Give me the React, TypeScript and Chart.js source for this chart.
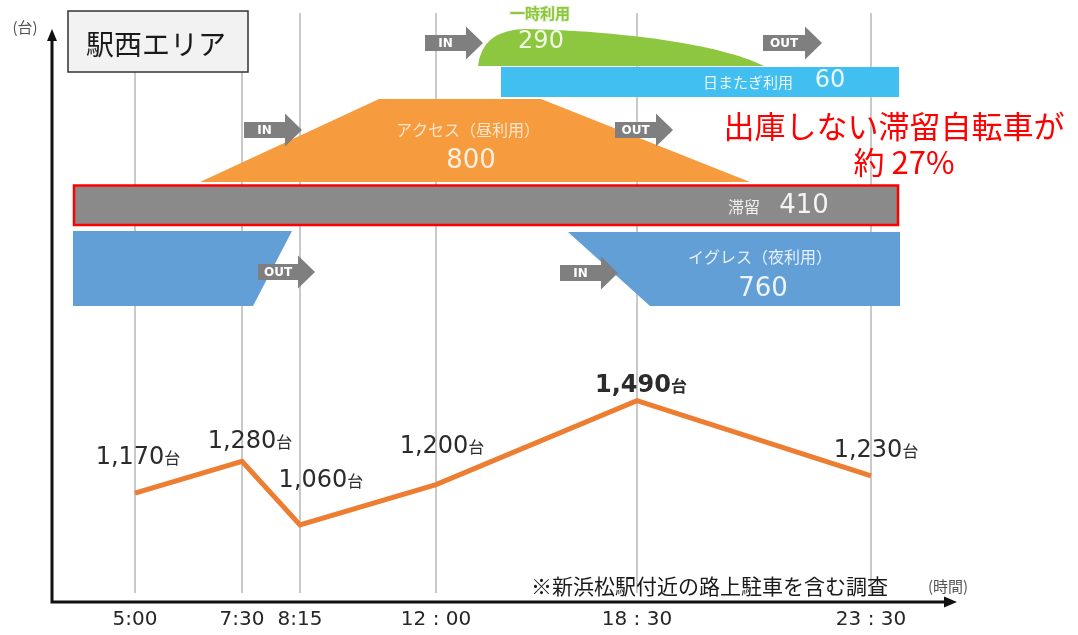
import React, { useEffect, useRef } from 'react';
import { Chart, registerables, LinearScale } from 'chart.js';

// ---------- data ----------
const timeLabels = ['5:00', '7:30', '8:15', '12 : 00', '18 : 30', '23 : 30'];
const timeHours = [5, 7.5, 8.25, 12, 18.5, 23.5];
const parkedCounts = [1170, 1280, 1060, 1200, 1490, 1230];
const peakIndex = 4;

const flowNames = ['一時利用', '日またぎ利用', 'アクセス（昼利用）', '滞留', 'イグレス（夜利用）'];
const flowValues = [290, 60, 800, 410, 760];

const areaTitle = '駅西エリア';
const noteLine1 = '出庫しない滞留自転車が';
const noteLine2 = '約 27%';
const footnote = '※新浜松駅付近の路上駐車を含む調査';
const unitY = '(台)';
const unitX = '(時間)';
const unitSuffix = '台';

// ---------- layout (not data) ----------
// fraction of the plot width where each time tick sits on the (hand-spaced) axis
const AXIS_FRACS = [0.0918, 0.2102, 0.2743, 0.4248, 0.6471, 0.906];
// label centre offsets from each point, px
const LABEL_DX = [3, 8, 21, 6, 4, 5];
const LABEL_DY = [-38, -22, -47, -41, -18, -28];

function interp(v: number, xs: number[], ys: number[]) {
  const n = xs.length;
  let i = 0;
  if (v <= xs[0]) i = 0;
  else if (v >= xs[n - 1]) i = n - 2;
  else {
    while (v > xs[i + 1]) i++;
  }
  const t = (v - xs[i]) / (xs[i + 1] - xs[i]);
  return ys[i] + t * (ys[i + 1] - ys[i]);
}

class SegmentScale extends LinearScale {
  static id = 'segment';
  static defaults = LinearScale.defaults;
  getPixelForValue(value: any) {
    if (value === null || value === undefined || isNaN(value)) return NaN;
    return this.getPixelForDecimal(interp(value, timeHours, AXIS_FRACS));
  }
  getValueForPixel(pixel: number) {
    return interp(this.getDecimalForPixel(pixel), AXIS_FRACS, timeHours);
  }
}

Chart.register(...registerables, SegmentScale as any);

const JP = '"Noto Sans CJK JP", "Noto Sans", sans-serif';
const NUM = '"DejaVu Sans", Verdana, sans-serif';

function drawArrow(ctx: CanvasRenderingContext2D, x0: number, x1: number, yc: number, label: string) {
  const bodyH = 16, headH = 33, headL = 17;
  ctx.save();
  ctx.fillStyle = '#7f7f7f';
  ctx.beginPath();
  ctx.moveTo(x0, yc - bodyH / 2);
  ctx.lineTo(x1 - headL, yc - bodyH / 2);
  ctx.lineTo(x1 - headL, yc - headH / 2);
  ctx.lineTo(x1, yc);
  ctx.lineTo(x1 - headL, yc + headH / 2);
  ctx.lineTo(x1 - headL, yc + bodyH / 2);
  ctx.lineTo(x0, yc + bodyH / 2);
  ctx.closePath();
  ctx.fill();
  ctx.fillStyle = '#ffffff';
  ctx.font = `bold 12px ${NUM}`;
  ctx.textAlign = 'center';
  ctx.textBaseline = 'middle';
  ctx.fillText(label, (x0 + x1 - headL) / 2, yc + 1);
  ctx.restore();
}

function text(ctx: CanvasRenderingContext2D, s: string, x: number, y: number, font: string, color: string, align: CanvasTextAlign = 'center') {
  ctx.font = font;
  ctx.fillStyle = color;
  ctx.textAlign = align;
  ctx.textBaseline = 'middle';
  ctx.fillText(s, x, y);
}

const overlayPlugin = {
  id: 'overlay',
  beforeDatasetsDraw(chart: any) {
    const { ctx, chartArea: ca } = chart;
    const X = (x: number) => ca.left + ((x - 52) * ca.width) / 904;
    const Y = (y: number) => ca.top + ((y - 13) * ca.height) / 580;
    ctx.save();

    // green: temporary use
    ctx.fillStyle = '#8dc63f';
    ctx.beginPath();
    ctx.moveTo(X(478), Y(66));
    ctx.quadraticCurveTo(X(482), Y(30), X(525), Y(29));
    ctx.bezierCurveTo(X(620), Y(31), X(720), Y(44), X(764), Y(66));
    ctx.closePath();
    ctx.fill();
    ctx.font = `bold 15px ${JP}`;
    ctx.lineWidth = 2;
    ctx.strokeStyle = '#e6f2d2';
    ctx.textAlign = 'center';
    ctx.textBaseline = 'middle';
    ctx.strokeText(flowNames[0], X(540), Y(13));
    ctx.fillStyle = '#8dc63f';
    ctx.fillText(flowNames[0], X(540), Y(13));
    text(ctx, String(flowValues[0]), X(541), Y(42), `24px ${NUM}`, '#f2f8e6');

    // light blue: overnight
    ctx.fillStyle = '#41bff0';
    ctx.fillRect(X(501), Y(67), X(899) - X(501), Y(97) - Y(67));
    text(ctx, flowNames[1], X(748), Y(82), `15px ${JP}`, '#eaf7fd');
    text(ctx, String(flowValues[1]), X(830), Y(81), `24px ${NUM}`, '#eaf7fd');

    // orange trapezoid: access
    ctx.fillStyle = '#f79b3f';
    ctx.beginPath();
    ctx.moveTo(X(200), Y(182));
    ctx.lineTo(X(379), Y(99));
    ctx.lineTo(X(541), Y(99));
    ctx.lineTo(X(750), Y(182));
    ctx.closePath();
    ctx.fill();
    text(ctx, flowNames[2], X(468), Y(130), `16px ${JP}`, '#fde7cc');
    text(ctx, String(flowValues[2]), X(471), Y(161), `26px ${NUM}`, '#fdf0e0');

    // gray bar: staying
    ctx.fillStyle = '#8a8a8a';
    ctx.fillRect(X(74), Y(186), X(898) - X(74), Y(225) - Y(186));
    ctx.strokeStyle = '#ff0000';
    ctx.lineWidth = 2.5;
    ctx.strokeRect(X(74), Y(185.5), X(898) - X(74), Y(225) - Y(185.5));
    text(ctx, flowNames[3], X(744), Y(207), `16px ${JP}`, '#f0f0f0');
    text(ctx, String(flowValues[3]), X(804), Y(206), `26px ${NUM}`, '#f4f4f4');

    // blue left (egress in the morning)
    ctx.fillStyle = '#619fd6';
    ctx.beginPath();
    ctx.moveTo(X(73), Y(231));
    ctx.lineTo(X(292), Y(231));
    ctx.lineTo(X(253), Y(306));
    ctx.lineTo(X(73), Y(306));
    ctx.closePath();
    ctx.fill();
    // blue right: egress (night)
    ctx.beginPath();
    ctx.moveTo(X(568), Y(232));
    ctx.lineTo(X(900), Y(232));
    ctx.lineTo(X(900), Y(306));
    ctx.lineTo(X(650), Y(306));
    ctx.closePath();
    ctx.fill();
    text(ctx, flowNames[4], X(760), Y(257), `16px ${JP}`, '#e6f0fa');
    text(ctx, String(flowValues[4]), X(763), Y(289), `26px ${NUM}`, '#eef5fc');

    // IN / OUT arrows
    drawArrow(ctx, X(425), X(483), Y(43), 'IN');
    drawArrow(ctx, X(763), X(822), Y(43), 'OUT');
    drawArrow(ctx, X(244), X(302), Y(130), 'IN');
    drawArrow(ctx, X(615), X(673), Y(130), 'OUT');
    drawArrow(ctx, X(258), X(315), Y(272), 'OUT');
    drawArrow(ctx, X(560), X(618), Y(273), 'IN');

    // red note
    text(ctx, noteLine1, X(894), Y(126), `31px ${JP}`, '#ff0000');
    text(ctx, noteLine2, X(904), Y(162), `31px ${JP}`, '#ff0000');

    // title box
    ctx.fillStyle = '#f2f2f2';
    ctx.fillRect(X(68), Y(11), X(248) - X(68), Y(72) - Y(11));
    ctx.strokeStyle = '#333333';
    ctx.lineWidth = 1.5;
    ctx.strokeRect(X(68), Y(11), X(248) - X(68), Y(72) - Y(11));
    text(ctx, areaTitle, X(156), Y(44), `28px ${JP}`, '#1a1a1a');

    // axes with arrows
    ctx.strokeStyle = '#111111';
    ctx.fillStyle = '#111111';
    ctx.lineWidth = 3;
    ctx.beginPath();
    ctx.moveTo(X(52), Y(603));
    ctx.lineTo(X(52), Y(38));
    ctx.moveTo(X(50.5), Y(602));
    ctx.lineTo(X(946), Y(602));
    ctx.stroke();
    ctx.beginPath();
    ctx.moveTo(X(52), Y(29));
    ctx.lineTo(X(47), Y(41));
    ctx.lineTo(X(57), Y(41));
    ctx.closePath();
    ctx.fill();
    ctx.beginPath();
    ctx.moveTo(X(957), Y(602));
    ctx.lineTo(X(944), Y(596.5));
    ctx.lineTo(X(944), Y(607.5));
    ctx.closePath();
    ctx.fill();

    text(ctx, unitY, X(25), Y(27), `15px ${JP}`, '#555555');
    text(ctx, unitX, X(948), Y(586), `15px ${JP}`, '#555555');
    text(ctx, footnote, X(531), Y(586), `21px ${JP}`, '#1a1a1a', 'left');
    ctx.restore();
  },
  afterDatasetsDraw(chart: any) {
    const { ctx } = chart;
    const meta = chart.getDatasetMeta(0);
    ctx.save();
    meta.data.forEach((pt: any, i: number) => {
      const num = parkedCounts[i].toLocaleString('en-US');
      const numFont = `${i === peakIndex ? 'bold ' : ''}24px ${NUM}`;
      const unitFont = `${i === peakIndex ? 'bold ' : ''}16px ${JP}`;
      ctx.font = numFont;
      const w1 = ctx.measureText(num).width;
      ctx.font = unitFont;
      const w2 = ctx.measureText(unitSuffix).width;
      const cx = pt.x + LABEL_DX[i];
      const base = pt.y + LABEL_DY[i] + 9;
      const left = cx - (w1 + w2) / 2;
      ctx.fillStyle = '#2b2b2b';
      ctx.textAlign = 'left';
      ctx.textBaseline = 'alphabetic';
      ctx.font = numFont;
      ctx.fillText(num, left, base);
      ctx.font = unitFont;
      ctx.fillText(unitSuffix, left + w1, base);
    });
    ctx.restore();
  },
};

export default function App() {
  const ref = useRef<HTMLCanvasElement>(null);
  useEffect(() => {
    const chart = new Chart(ref.current as HTMLCanvasElement, {
      type: 'line',
      data: {
        datasets: [
          {
            label: '駐輪台数',
            data: timeHours.map((h, i) => ({ x: h, y: parkedCounts[i] })),
            borderColor: '#ed7d31',
            borderWidth: 5,
            pointRadius: 0,
            tension: 0,
            fill: false,
          },
        ],
      },
      options: {
        animation: false,
        responsive: true,
        maintainAspectRatio: false,
        layout: { padding: { left: 52, right: 122, top: 13, bottom: 4 } },
        plugins: { legend: { display: false }, tooltip: { enabled: false } },
        scales: {
          x: {
            type: 'segment' as any,
            min: 3,
            max: 25,
            afterBuildTicks: (s: any) => {
              s.ticks = timeHours.map((v) => ({ value: v }));
            },
            afterFit: (s: any) => {
              s.height = 38;
            },
            grid: { color: '#c9c9c9', lineWidth: 2, drawTicks: false },
            border: { display: false },
            ticks: {
              autoSkip: false,
              maxRotation: 0,
              padding: 15,
              color: '#262626',
              font: { family: 'DejaVu Sans', size: 20 },
              callback: (_v: any, i: number) => timeLabels[i] ?? '',
            },
          },
          y: { display: false, min: 825, max: 2830 },
        },
      },
      plugins: [overlayPlugin],
    } as any);
    return () => chart.destroy();
  }, []);
  return (
    <div style={{ position: 'fixed', left: 0, top: 0, width: 1078, height: 635, background: '#ffffff' }}>
      <canvas ref={ref} />
    </div>
  );
}
